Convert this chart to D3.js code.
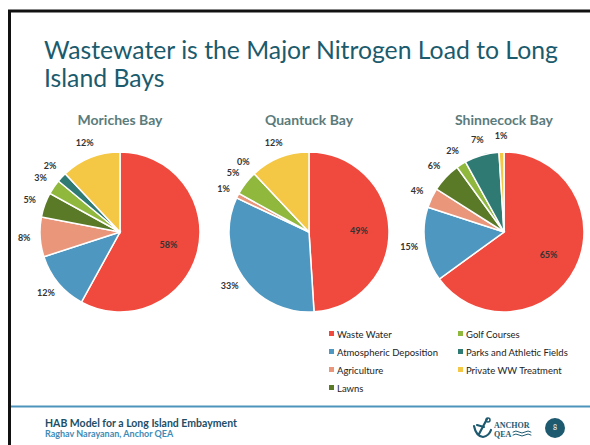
<!DOCTYPE html>
<html>
<head>
<meta charset="utf-8">
<script src="https://cdn.jsdelivr.net/npm/d3@7"></script>
<style>
  html, body { margin: 0; padding: 0; background: #fff; }
  svg { display: block; font-family: Lato, "Open Sans", sans-serif; }
</style>
</head>
<body>
<div id="chart"></div>
<script>
// Chart data
const categories = ["Waste Water", "Atmospheric Deposition", "Agriculture", "Lawns",
  "Golf Courses", "Parks and Athletic Fields", "Private WW Treatment"];
const bays = ["Moriches Bay", "Quantuck Bay", "Shinnecock Bay"];
const moriches = [58, 12, 8, 5, 3, 2, 12];
const quantuck = [49, 33, 1, null, 5, 0, 12];
const shinnecock = [65, 15, 4, 6, 2, 7, 1];
const colors = ["#f04a3e", "#4e97c0", "#e9967b", "#5b7a27", "#8fb83c", "#2f7a73", "#f4c745"];

const titleLines = ["Wastewater is the Major Nitrogen Load to Long", "Island Bays"];
const footerTitle = "HAB Model for a Long Island Embayment";
const footerAuthor = "Raghav Narayanan, Anchor QEA";
const pageNumber = "8";

const width = 590, height = 445;

const svg = d3.select("#chart").append("svg")
  .attr("width", width)
  .attr("height", height);

// slide frame
svg.append("line").attr("x1", 8).attr("x2", width).attr("y1", 11).attr("y2", 11)
  .attr("stroke", "#111").attr("stroke-width", 3);
svg.append("line").attr("x1", 9.5).attr("x2", 9.5).attr("y1", 10).attr("y2", height)
  .attr("stroke", "#111").attr("stroke-width", 3);

// Title, fitted to the width of the first line
const title = svg.append("g").attr("fill", "#1b5b6d");
titleLines.forEach((t, i) => {
  title.append("text")
    .attr("x", 44)
    .attr("y", 59 + i * 28)
    .style("font-size", "23px")
    .text(t);
});
const firstLine = title.select("text").node();
const fitSize = 23 * 514 / firstLine.getComputedTextLength();
title.selectAll("text").style("font-size", Math.min(fitSize, 26) + "px");

// Pies
const series = [moriches, quantuck, shinnecock];
const centers = d3.scalePoint().domain(bays).range([120, 504]);
const radius = 80;

const pie = d3.pie().sort(null).value(d => d.value || 0);
const arc = d3.arc().innerRadius(0).outerRadius(radius);
const outerLabel = d3.arc().innerRadius(96).outerRadius(96);
const innerLabel = d3.arc().innerRadius(50).outerRadius(50);

bays.forEach((bay, b) => {
  const cx = b === 1 ? 309 : centers(bay);
  const g = svg.append("g").attr("transform", "translate(" + cx + ",232)");

  svg.append("text")
    .attr("x", cx)
    .attr("y", 125)
    .attr("text-anchor", "middle")
    .attr("fill", "#5b7b7c")
    .style("font-size", "14px")
    .style("font-weight", "bold")
    .text(bay);

  const slices = pie(series[b].map((v, i) => ({ name: categories[i], value: v })));

  g.selectAll("path")
    .data(slices)
    .enter().append("path")
    .attr("d", arc)
    .attr("fill", (d, i) => colors[i])
    .attr("stroke", "#fff")
    .attr("stroke-width", 1.5);

  g.selectAll(".lbl")
    .data(slices.filter(d => d.data.value !== null))
    .enter().append("text")
    .attr("class", "lbl")
    .attr("transform", d => "translate(" + (d.index === 0 ? innerLabel : outerLabel).centroid(d) + ")")
    .attr("text-anchor", "middle")
    .attr("dy", "0.35em")
    .attr("fill", "#333")
    .style("font-size", "9px")
    .style("font-weight", "bold")
    .text(d => d.data.value + "%");
});

// Legend, filled column by column
const legend = svg.append("g");
categories.forEach((c, i) => {
  const col = i < 4 ? 0 : 1;
  const row = i < 4 ? i : i - 4;
  const item = legend.append("g")
    .attr("transform", "translate(" + (col === 0 ? 329 : 458) + "," + (335 + row * 18) + ")");
  item.append("rect")
    .attr("x", 0).attr("y", -4).attr("width", 5).attr("height", 5)
    .attr("fill", colors[i]);
  item.append("text")
    .attr("x", 8)
    .attr("y", 0)
    .attr("dy", "0.35em")
    .attr("fill", "#222")
    .style("font-size", "9.5px")
    .text(c);
});

// Footer
svg.append("line").attr("x1", 11).attr("x2", width).attr("y1", 406.5).attr("y2", 406.5)
  .attr("stroke", "#4e93bb").attr("stroke-width", 2);

svg.append("text")
  .attr("x", 45).attr("y", 427)
  .attr("fill", "#1d4e66")
  .style("font-size", "10.5px").style("font-weight", "bold")
  .text(footerTitle);
svg.append("text")
  .attr("x", 45).attr("y", 437)
  .attr("fill", "#3f8bb6")
  .style("font-size", "9px").style("font-weight", "bold")
  .text(footerAuthor);

// Anchor QEA logo
const logo = svg.append("g").attr("fill", "none").attr("stroke", "#1d5a70").attr("stroke-width", 2.2)
  .attr("stroke-linecap", "round");
logo.append("path").attr("d", "M487,419 L479,434 M474,426 Q476,436 483,437 Q489,436 491,430 M477,425 L484,427");
logo.append("circle").attr("cx", 488).attr("cy", 420).attr("r", 2).attr("stroke-width", 1.5);
svg.append("text").attr("x", 494).attr("y", 428).attr("fill", "#1d5a70")
  .style("font-family", "'Liberation Serif', serif").style("font-size", "8px").style("font-weight", "bold")
  .text("ANCHOR");
svg.append("text").attr("x", 494).attr("y", 437).attr("fill", "#1d5a70")
  .style("font-family", "'Liberation Serif', serif").style("font-size", "8px").style("font-weight", "bold")
  .text("QEA");
logo.append("path").attr("stroke-width", 1)
  .attr("d", "M513,432 q3,-2 6,0 t6,0 t6,0 M513,435 q3,-2 6,0 t6,0 t6,0");

svg.append("circle").attr("cx", 555).attr("cy", 428).attr("r", 10).attr("fill", "#1d5a70");
svg.append("text").attr("x", 555).attr("y", 428).attr("dy", "0.35em")
  .attr("text-anchor", "middle").attr("fill", "#fff")
  .style("font-size", "7px")
  .text(pageNumber);
</script>
</body>
</html>
